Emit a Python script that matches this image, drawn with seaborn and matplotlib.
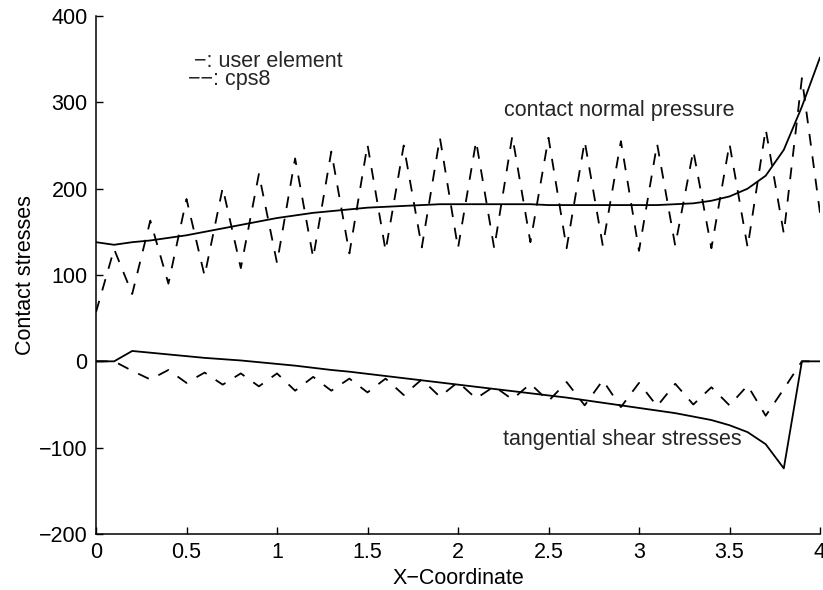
import numpy as np
import pandas as pd
import matplotlib
matplotlib.use("Agg")
import matplotlib.pyplot as plt
import seaborn as sns

# ---- data ----
x_coord = [0.0, 0.1, 0.2, 0.3, 0.4, 0.5, 0.6, 0.7, 0.8, 0.9,
           1.0, 1.1, 1.2, 1.3, 1.4, 1.5, 1.6, 1.7, 1.8, 1.9,
           2.0, 2.1, 2.2, 2.3, 2.4, 2.5, 2.6, 2.7, 2.8, 2.9,
           3.0, 3.1, 3.2, 3.3, 3.4, 3.5, 3.6, 3.7, 3.8, 3.9, 4.0]

normal_user = [138, 135, 138, 140, 143, 146, 150, 154, 158, 162,
               166, 169, 172, 174, 176, 178, 179, 180, 181, 182,
               182, 182, 182, 182, 182, 181, 181, 181, 181, 181,
               181, 181, 182, 183, 186, 191, 200, 215, 245, 295, 352]

normal_cps8 = [57, 130, 78, 163, 90, 188, 99, 201, 108, 217,
               114, 235, 120, 243, 125, 251, 128, 250, 132, 259,
               131, 255, 131, 261, 138, 259, 131, 255, 134, 255,
               128, 252, 134, 244, 131, 252, 132, 269, 148, 328, 172]

shear_user = [0, 0, 12, 10, 8, 6, 4, 2.5, 1, -1,
              -3, -5, -7.5, -10, -12, -14.5, -17, -19.5, -22, -24.5,
              -27, -29.5, -32, -34.5, -37, -39.5, -42, -45, -48, -51,
              -54, -57, -60, -64, -68, -74, -82, -96, -124, 0, 0]

shear_cps8 = [0, 0, -11, -21, -10, -25, -13, -27, -14, -29,
              -14, -34, -18, -34, -20, -36, -20, -39, -21, -41,
              -24, -43, -29, -44, -26, -46, -24, -51, -22, -53,
              -25, -52, -26, -50, -30, -51, -28, -63, -32, 0, 0]

x_ticks = [0, 0.5, 1, 1.5, 2, 2.5, 3, 3.5, 4]
x_tick_labels = ["0", "0.5", "1", "1.5", "2", "2.5", "3", "3.5", "4"]
y_ticks = [-200, -100, 0, 100, 200, 300, 400]

# ---- style ----
sns.set_theme(style="ticks")
plt.rcParams["font.family"] = ["Liberation Sans", "DejaVu Sans"]
plt.rcParams["axes.unicode_minus"] = True

FS = 15.5

fig = plt.figure(figsize=(8.23, 5.9), dpi=100)
ax = fig.add_axes([96 / 823, 1 - 534 / 590, (820 - 96) / 823, (534 - 16) / 590])

dash = (0, (6.5, 6))
for series, dashed in [(normal_user, False), (normal_cps8, True),
                       (shear_user, False), (shear_cps8, True)]:
    df = pd.DataFrame({"x": x_coord, "y": series})
    sns.lineplot(data=df, x="x", y="y", ax=ax, color="black",
                 linewidth=1.3, sort=False, estimator=None)
    if dashed:
        ax.lines[-1].set_linestyle(dash)

ax.set_xlim(0, 4)
ax.set_ylim(-200, 400)
ax.set_xticks(x_ticks)
ax.set_xticklabels(x_tick_labels)
ax.set_yticks(y_ticks)
ax.tick_params(direction="in", length=5, width=1, labelsize=FS, pad=6,
               colors="black")
for s in ["top", "right"]:
    ax.spines[s].set_visible(False)
for s in ["left", "bottom"]:
    ax.spines[s].set_color("black")
    ax.spines[s].set_linewidth(1.1)

ax.set_xlabel("X\u2212Coordinate", fontsize=FS, color="black", labelpad=3)
ax.set_ylabel("Contact stresses", fontsize=FS, color="black", labelpad=2)

ax.text(0.51, 337, " \u2212: user element\n\u2212\u2212: cps8", fontsize=FS,
        ha="left", va="center", linespacing=0.78)
ax.text(2.89, 290, "contact normal pressure", fontsize=FS, ha="center", va="center")
ax.text(2.91, -90, "tangential shear stresses", fontsize=FS, ha="center", va="center")

fig.savefig("out.png", dpi=100)
